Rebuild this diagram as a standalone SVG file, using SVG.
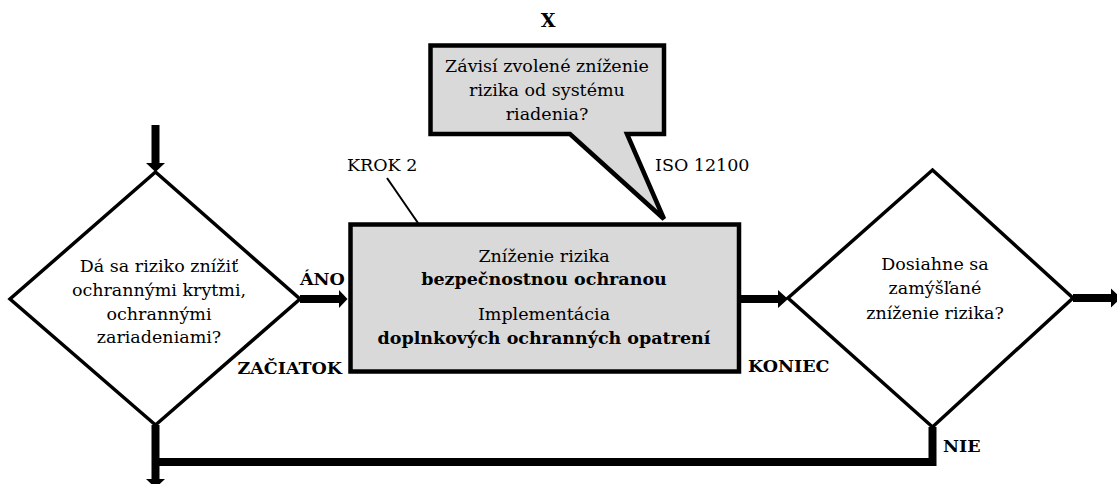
<svg xmlns="http://www.w3.org/2000/svg" width="1117" height="484" viewBox="0 0 1117 484">
<style>
text{font-family:"DejaVu Serif","Liberation Serif",serif;font-size:17.5px;fill:#000}
.b{font-weight:bold}
.c{text-anchor:middle}
.e{text-anchor:end}
.dia{fill:#fff;stroke:#000;stroke-width:3.5;stroke-linejoin:miter}
.box{fill:#d9d9d9;stroke:#000;stroke-width:4.5}
.flow{fill:none;stroke:#000;stroke-width:8}
.thin{fill:none;stroke:#000;stroke-width:2}
</style>
<defs>
<marker id="ah" markerUnits="userSpaceOnUse" markerWidth="12" markerHeight="20" refX="10" refY="10" orient="auto" viewBox="0 0 12 20">
<path d="M0,0 L10,10 L0,20 Z" fill="#000"/>
</marker>
</defs>
<g id="connectors">
<line class="flow" x1="155.5" y1="125" x2="155.5" y2="163"/>
<path d="M146,163 L165,163 L155.5,172 Z" fill="#000"/>
<line class="flow" x1="155.5" y1="425" x2="155.5" y2="479"/>
<path d="M146,479 L165,479 L155.5,488 Z" fill="#000"/>
<polyline class="flow" points="155.5,462 932.5,462 932.5,427"/>
<line class="flow" x1="300" y1="299" x2="339" y2="299"/>
<path d="M339,290 L347.5,299 L339,308 Z" fill="#000"/>
<line class="flow" x1="741" y1="299" x2="778" y2="299"/>
<path d="M778,290 L788,299 L778,308 Z" fill="#000"/>
<line class="flow" x1="1073" y1="298" x2="1111" y2="298"/>
<path d="M1111,288.5 L1121,298 L1111,307.5 Z" fill="#000"/>
<line class="thin" x1="387" y1="178" x2="418" y2="223"/>
</g>
<g id="start-decision">
<polygon class="dia" points="155.5,172 300,299 155.5,425 10,299"/>
<text class="c" x="159" y="272">Dá sa riziko znížiť</text>
<text class="c" x="159" y="296">ochrannými krytmi,</text>
<text class="c" x="159" y="320">ochrannými</text>
<text class="c" x="159" y="343">zariadeniami?</text>
</g>
<g id="label-ano"><text class="b" x="300" y="285">ÁNO</text></g>
<g id="label-zaciatok"><text class="b e" x="342" y="374">ZAČIATOK</text></g>
<g id="step2">
<rect class="box" x="350.5" y="224.5" width="388.5" height="147"/>
<text class="c" x="544" y="262">Zníženie rizika</text>
<text class="c b" x="544" y="285">bezpečnostnou ochranou</text>
<text class="c" x="544" y="320">Implementácia</text>
<text class="c b" x="544" y="344">doplnkových ochranných opatrení</text>
</g>
<g id="label-krok2"><text x="347" y="171">KROK 2</text></g>
<g id="label-iso"><text x="655" y="171">ISO 12100</text></g>
<g id="callout">
<path class="box" d="M430.5,45.5 H664 V134 H627 L664,219 L570,134 H430.5 Z"/>
<text class="c" x="547" y="72">Závisí zvolené zníženie</text>
<text class="c" x="547" y="96">rizika od systému</text>
<text class="c" x="547" y="120">riadenia?</text>
</g>
<g id="label-x"><text class="b c" x="548" y="27" style="font-size:19px">X</text></g>
<g id="label-koniec"><text class="b" x="748" y="372">KONIEC</text></g>
<g id="end-decision">
<polygon class="dia" points="932.5,170 1073,298 932.5,427 788,298"/>
<text class="c" x="935" y="270">Dosiahne sa</text>
<text class="c" x="935" y="294">zamýšľané</text>
<text class="c" x="935" y="319">zníženie rizika?</text>
</g>
<g id="label-nie"><text class="b" x="943" y="452">NIE</text></g>
</svg>
